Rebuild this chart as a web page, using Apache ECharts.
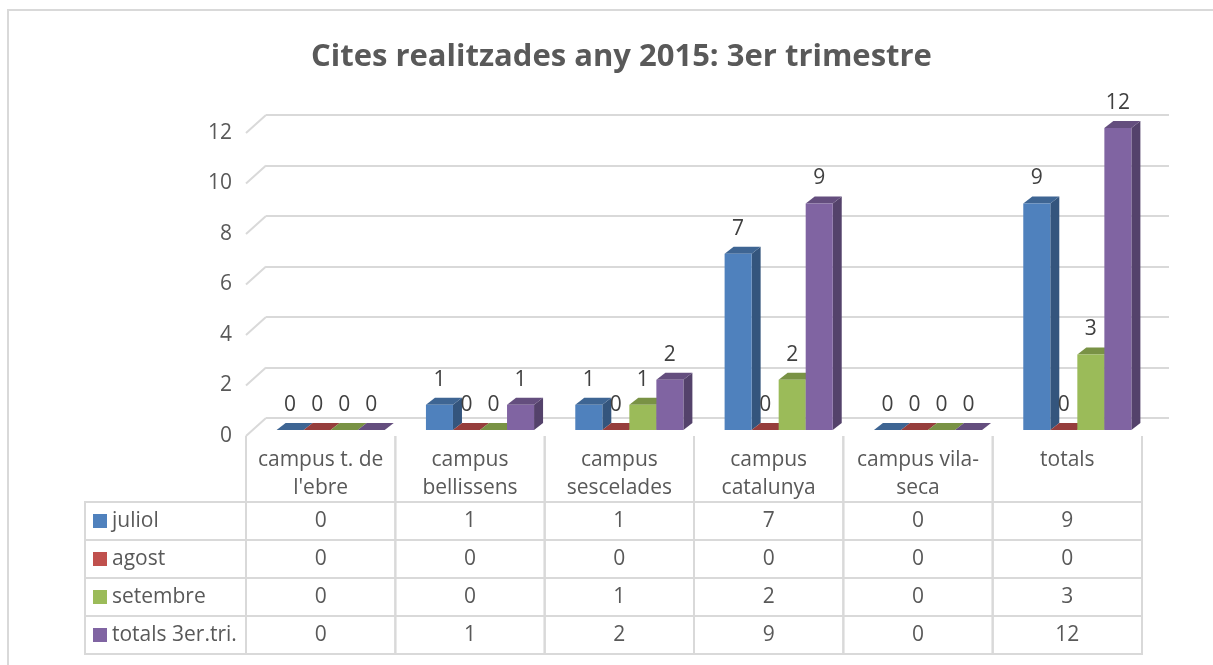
<!DOCTYPE html>
<html>
<head>
<meta charset="utf-8">
<script src="https://cdn.jsdelivr.net/npm/echarts@6/dist/echarts.min.js"></script>
<style>
html, body { margin: 0; padding: 0; background: #fff; }
#chart { width: 1213px; height: 665px; }
</style>
</head>
<body>
<div id="chart"></div>
<script>
// dades del gràfic
var categories = ['campus t. de\nl\'ebre', 'campus\nbellissens', 'campus\nsescelades', 'campus\ncatalunya', 'campus vila-\nseca', 'totals'];
var seriesNames = ['juliol', 'agost', 'setembre', 'totals 3er.tri.'];
var juliol = [0, 1, 1, 7, 0, 9];
var agost = [0, 0, 0, 0, 0, 0];
var setembre = [0, 0, 1, 2, 0, 3];
var totals3er = [0, 1, 2, 9, 0, 12];
var yTicks = [0, 2, 4, 6, 8, 10, 12];

var valueRows = [juliol, agost, setembre, totals3er];
var colors = ['#4F81BD', '#C0504D', '#9BBB59', '#8064A2'];

var FONT = 'Open Sans';
var FS = 21;
var TEXT_C = '#595959';
var LINE_C = '#D9D9D9';
var BAR_DX = 9, BAR_DY = 7;      // profunditat de les barres
var WALL_DX = 20, WALL_DY = 18;  // profunditat de la paret del fons
var HEAD_H = 66, ROW_H = 38, KEY_W = 161;

function shade(hex, f) {
  var n = parseInt(hex.slice(1), 16);
  var r = Math.round((n >> 16) * f), g = Math.round(((n >> 8) & 255) * f), b = Math.round((n & 255) * f);
  return 'rgb(' + r + ',' + g + ',' + b + ')';
}

// barra 3d: cara frontal, lateral i superior
function barRender(k) {
  return function (params, api) {
    var i = api.value(0), v = api.value(1);
    var base = api.coord([i, 0]), top = api.coord([i, v]);
    var bw = api.size([1, 0])[0] * 0.181;
    var x0 = base[0] - 2 * bw + k * bw, x1 = x0 + bw;
    var y0 = top[1], y1 = base[1];
    var c = colors[k];
    return {
      type: 'group',
      children: [
        { type: 'polygon', shape: { points: [[x1, y0], [x1 + BAR_DX, y0 - BAR_DY], [x1 + BAR_DX, y1 - BAR_DY], [x1, y1]] }, style: { fill: shade(c, 0.66) } },
        { type: 'polygon', shape: { points: [[x0, y0], [x0 + BAR_DX, y0 - BAR_DY], [x1 + BAR_DX, y0 - BAR_DY], [x1, y0]] }, style: { fill: shade(c, 0.78) } },
        { type: 'rect', shape: { x: x0, y: y0, width: bw, height: y1 - y0 }, style: { fill: c } },
        { type: 'text', z2: 100, style: { text: String(v), x: (x0 + x1) / 2, y: y0 - 25, align: 'center', verticalAlign: 'middle', fill: '#404040', fontSize: FS, fontFamily: FONT } }
      ]
    };
  };
}

// línies diagonals de la paret
function diagRender(params, api) {
  var p = api.coord([0, api.value(1)]);
  var left = p[0] - api.size([1, 0])[0] / 2;
  return { type: 'line', shape: { x1: left, y1: p[1], x2: left - WALL_DX, y2: p[1] + WALL_DY }, style: { stroke: LINE_C, lineWidth: 2 } };
}

// taula de dades
function headRender(params, api) {
  var p = api.coord([api.value(0), 0]);
  var w = api.size([1, 0])[0];
  return {
    type: 'group',
    children: [
      { type: 'line', shape: { x1: p[0] - w / 2, y1: p[1], x2: p[0] - w / 2, y2: p[1] + HEAD_H }, style: { stroke: LINE_C, lineWidth: 2 } },
      { type: 'line', shape: { x1: p[0] + w / 2, y1: p[1], x2: p[0] + w / 2, y2: p[1] + HEAD_H }, style: { stroke: LINE_C, lineWidth: 2 } }
    ]
  };
}

function cellRender(params, api) {
  var i = api.value(0), k = api.value(1), v = api.value(2);
  var p = api.coord([i, 0]);
  var w = api.size([1, 0])[0];
  var top = p[1] + HEAD_H + k * ROW_H;
  return {
    type: 'group',
    children: [
      { type: 'rect', shape: { x: p[0] - w / 2, y: top, width: w, height: ROW_H }, style: { fill: 'none', stroke: LINE_C, lineWidth: 2 } },
      { type: 'text', style: { text: String(v), x: p[0], y: top + ROW_H / 2, align: 'center', verticalAlign: 'middle', fill: TEXT_C, fontSize: FS, fontFamily: FONT } }
    ]
  };
}

function keyRender(params, api) {
  var k = api.value(1);
  var p = api.coord([0, 0]);
  var right = p[0] - api.size([1, 0])[0] / 2, left = right - KEY_W;
  var top = p[1] + HEAD_H + k * ROW_H;
  return {
    type: 'group',
    children: [
      { type: 'rect', shape: { x: left, y: top, width: KEY_W, height: ROW_H }, style: { fill: 'none', stroke: LINE_C, lineWidth: 2 } },
      { type: 'rect', shape: { x: left + 8, y: top + ROW_H / 2 - 7, width: 14, height: 14 }, style: { fill: colors[k] } },
      { type: 'text', style: { text: seriesNames[k], x: left + 27, y: top + ROW_H / 2, align: 'left', verticalAlign: 'middle', fill: TEXT_C, fontSize: FS, fontFamily: FONT } }
    ]
  };
}

var tableCells = [];
valueRows.forEach(function (row, k) {
  row.forEach(function (v, i) { tableCells.push([i, k, v]); });
});

var myChart = echarts.init(document.getElementById('chart'));

var series = [
  { type: 'custom', xAxisIndex: 0, yAxisIndex: 0, data: yTicks.map(function (t) { return [0, t]; }), renderItem: diagRender, silent: true },
  { type: 'custom', xAxisIndex: 2, yAxisIndex: 2, data: categories.map(function (c, i) { return [i, 0]; }), renderItem: headRender, silent: true },
  { type: 'custom', xAxisIndex: 2, yAxisIndex: 2, data: tableCells, renderItem: cellRender, silent: true },
  { type: 'custom', xAxisIndex: 2, yAxisIndex: 2, data: seriesNames.map(function (n, k) { return [0, k]; }), renderItem: keyRender, silent: true }
];
valueRows.forEach(function (row, k) {
  series.push({
    name: seriesNames[k],
    type: 'custom',
    xAxisIndex: 1,
    yAxisIndex: 1,
    data: row.map(function (v, i) { return [i, v]; }),
    renderItem: barRender(k)
  });
});

myChart.setOption({
  backgroundColor: '#fff',
  animation: false,
  title: {
    text: 'Cites realitzades any 2015: 3er trimestre',
    left: 306,
    top: 37,
    textStyle: { fontFamily: FONT, fontSize: 31, fontWeight: 'bold', color: TEXT_C }
  },
  graphic: [
    { type: 'polyline', shape: { points: [[8, 665], [8, 10], [1213, 10]] }, style: { stroke: LINE_C, lineWidth: 2, fill: null } }
  ],
  grid: [
    { left: 266, right: 44, top: 115, bottom: 247 },  // paret del fons
    { left: 256, right: 61, top: 128, bottom: 235 },  // pla de les barres
    { left: 246, right: 71, top: 133, bottom: 229 }   // pla frontal
  ],
  xAxis: [
    { gridIndex: 0, type: 'category', data: categories, show: false },
    { gridIndex: 1, type: 'category', data: categories, show: false },
    {
      gridIndex: 2, type: 'category', data: categories,
      axisLine: { show: false }, axisTick: { show: false },
      axisLabel: { margin: 10, fontSize: FS, lineHeight: 28, color: TEXT_C, fontFamily: FONT, interval: 0 }
    }
  ],
  yAxis: [
    {
      gridIndex: 0, type: 'value', min: 0, max: 12, interval: 2,
      axisLabel: { show: false }, axisLine: { show: false }, axisTick: { show: false },
      splitLine: { lineStyle: { color: LINE_C, width: 2 } }
    },
    { gridIndex: 1, type: 'value', min: 0, max: 12, interval: 2, show: false, splitLine: { show: false } },
    {
      gridIndex: 2, type: 'value', min: 0, max: 12, interval: 2,
      axisLine: { show: false }, axisTick: { show: false }, splitLine: { show: false },
      axisLabel: { margin: 14, fontSize: FS, color: TEXT_C, fontFamily: FONT }
    }
  ],
  series: series
});
</script>
</body>
</html>
